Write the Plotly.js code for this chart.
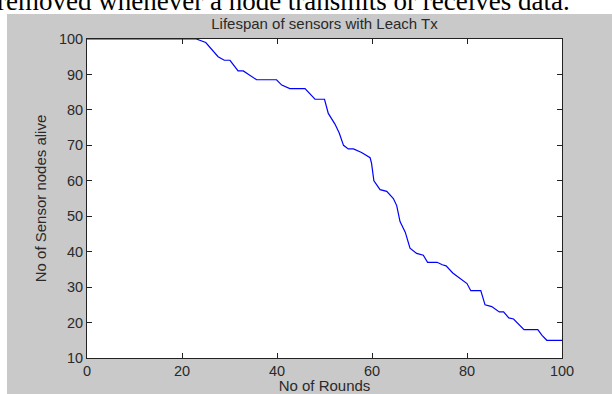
<!DOCTYPE html>
<html>
<head>
<meta charset="utf-8">
<script src="https://cdn.plot.ly/plotly-3.0.1.min.js"></script>
<style>
  html, body { margin: 0; padding: 0; background: #ffffff; width: 612px; height: 394px; overflow: hidden; }
  #caption { position: absolute; left: -3px; top: -12px; font-family: "Liberation Serif", "Times New Roman", serif; font-size: 27px; line-height: 27px; color: #000; white-space: nowrap; }
  #chart { position: absolute; left: 7px; top: 14px; width: 605px; height: 380px; }
</style>
</head>
<body>
<div id="caption">removed whenever a node transmits or receives data.</div>
<div id="chart"></div>
<script>
// Rounds (breakpoints) and number of sensor nodes alive
const rounds = [0, 23, 25, 27.6, 28.9, 30.1, 31.8, 32.9, 35.7, 39.9, 41, 42.7, 45.9, 48, 50, 50.8, 52.2, 53.1, 54, 55, 56.1, 57.8, 59.6, 59.9, 60.4, 61.7, 63.1, 64.5, 65.2, 65.9, 67, 68, 69.4, 70.8, 71.7, 73.7, 74.8, 75.6, 77, 78.9, 80, 80.8, 82.9, 83.8, 85.2, 86.8, 87.7, 88.8, 89.8, 92, 94.9, 95.8, 96.8, 100];
const alive  = [100, 100, 99, 95, 94, 94, 91, 91, 88.5, 88.5, 87, 86, 86, 83, 83, 79, 76, 73.5, 70, 69, 69, 68, 66.5, 65, 60, 57.5, 57, 55, 53, 48.5, 45.5, 41, 39.5, 39, 37, 37, 36.3, 36, 34, 32, 31, 29, 29, 25, 24.5, 23, 23, 21.3, 21, 18, 18, 16.4, 15, 15];

const xTicks = [0, 20, 40, 60, 80, 100];
const yTicks = [10, 20, 30, 40, 50, 60, 70, 80, 90, 100];

const titleText = "Lifespan of sensors with Leach Tx";
const xTitle = "No of Rounds";
const yTitle = "No of Sensor nodes alive";

const textColor = "#2a2a2a";
const titleFont = { family: "Liberation Sans, Arial, sans-serif", size: 15, color: textColor };
const tickFont = { family: "Liberation Sans, Arial, sans-serif", size: 14.5, color: textColor };

const trace = {
  x: rounds, y: alive, type: "scatter", mode: "lines",
  line: { color: "#0000ff", width: 1.2 },
  hoverinfo: "skip"
};

const axisCommon = {
  showgrid: false, zeroline: false, showline: true, linecolor: "#222222", linewidth: 1,
  mirror: "ticks", ticks: "inside", ticklen: 5, tickcolor: "#222222", tickwidth: 1,
  tickfont: tickFont, automargin: false
};

const layout = {
  width: 605, height: 380,
  margin: { l: 80, r: 50, t: 25, b: 36 },
  paper_bgcolor: "#c9c9c9",
  plot_bgcolor: "#ffffff",
  showlegend: false,
  font: tickFont,
  title: { text: titleText, font: titleFont, x: 0.5, xref: "paper", y: 1 - 10 / 380, yref: "container", yanchor: "middle" },
  xaxis: Object.assign({}, axisCommon, {
    range: [0, 100], tickmode: "array", tickvals: xTicks, ticktext: xTicks.map(String),
    title: { text: xTitle, font: titleFont, standoff: 6 }
  }),
  yaxis: Object.assign({}, axisCommon, {
    range: [10, 100], tickmode: "array", tickvals: yTicks, ticktext: yTicks.map(String),
    title: { text: yTitle, font: titleFont, standoff: 8 }
  })
};

Plotly.newPlot("chart", [trace], layout, { staticPlot: true, displayModeBar: false });
</script>
</body>
</html>
